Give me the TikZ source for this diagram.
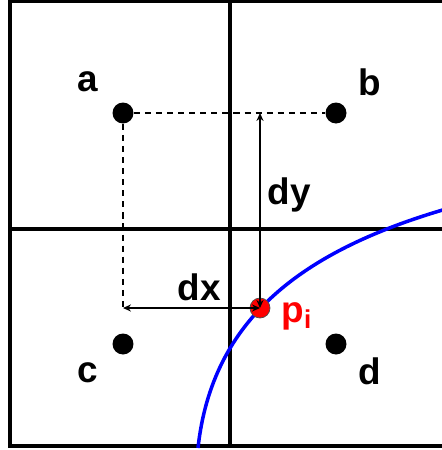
\documentclass[tikz,border=0pt]{standalone}
\usepackage{fontspec}
\setmainfont{Liberation Sans}
\usetikzlibrary{arrows.meta}
\begin{document}
\begin{tikzpicture}[x=0.02cm, y=-0.02cm, every node/.style={font=\bfseries\fontsize{21}{24}\selectfont}]
  \tikzstyle{pt}=[circle,fill=black,inner sep=0pt,minimum size=0.42cm]
  \tikzstyle{grid}=[line width=2.3pt]
  \tikzstyle{aux}=[dash pattern=on 3.5pt off 2.8pt,line width=1.3pt]
  \tikzstyle{dist}=[{Stealth[length=4.5pt,width=4pt]}-{Stealth[length=4.5pt,width=4pt]},line width=1pt]
  \useasboundingbox (0,0) rectangle (442,450);
  \clip (0,0) rectangle (442,450);
  % cells
  \draw[grid] (10,1) rectangle (470,446);
  \draw[grid] (230,1) -- (230,446);
  \draw[grid] (10,229) -- (470,229);
  % interface
  \draw[blue,line width=2pt] (198,448) .. controls (212,319) and (302,251) .. (446,209);
  % cell centres
  \node[pt] (a) at (123,113) {};
  \node[pt] (b) at (336,113) {};
  \node[pt] (c) at (123,344) {};
  \node[pt] (d) at (336,344) {};
  \node[pt,fill=red,draw=black!70,thin,minimum size=0.4cm] (p) at (260,308) {};
  \node (la) at (88,82) {a};
  \node (lb) at (370,82) {b};
  \node (lc) at (88,373) {c};
  \node (ld) at (370,371) {d};
  \node[red] (lp) at (297,316) {p\textsubscript{i}};
  \coordinate (ax) at (a |- p);
  \coordinate (ay) at (p |- a);
  \draw[aux] (a) -- (b);
  \draw[aux] (a) -- (ax);
  \draw[dist] (ax) -- (p.center);
  \draw[dist] (ay) -- (p.center);
  \node (dx) at (199,287) {dx};
  \node (dy) at (289,195) {dy};
\end{tikzpicture}
\end{document}
